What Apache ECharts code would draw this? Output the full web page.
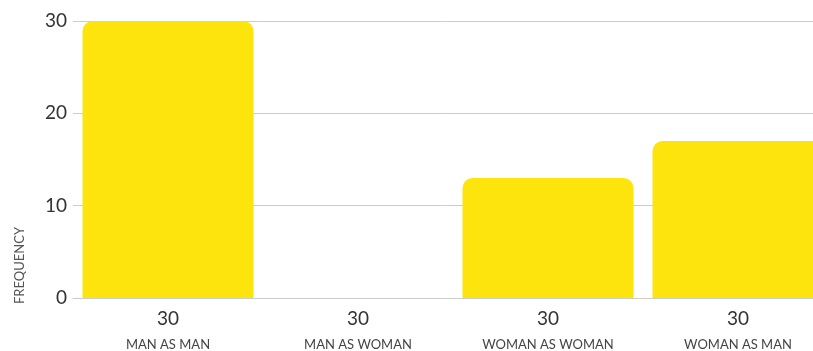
<!DOCTYPE html>
<html>
<head>
<meta charset="utf-8">
<style>html,body{margin:0;padding:0;background:#fff}#c{width:813px;height:351px}</style>
<script src="https://cdn.jsdelivr.net/npm/echarts@6/dist/echarts.min.js"></script>
</head>
<body>
<div id="c"></div>
<script>
const categories = ['MAN AS MAN', 'MAN AS WOMAN', 'WOMAN AS WOMAN', 'WOMAN AS MAN'];
const totals = [30, 30, 30, 30];
const frequency = [30, 0, 13, 17];
const yTicks = [0, 10, 20, 30];

const chart = echarts.init(document.getElementById('c'), null, {renderer: 'canvas'});
chart.setOption({
  animation: false,
  grid: {left: 73, width: 760, top: 21, height: 277, containLabel: false, outerBoundsMode: 'none'},
  xAxis: {
    type: 'category',
    data: categories,
    axisLine: {show: true, lineStyle: {color: '#cccccc', width: 1}},
    axisTick: {show: false},
    axisLabel: {
      interval: 0,
      margin: 8,
      formatter: function (v, i) { return '{n|' + totals[i] + '}\n{c|' + v + '}'; },
      rich: {
        n: {fontFamily: 'Lato', fontSize: 19, color: '#333', lineHeight: 26},
        c: {fontFamily: 'Lato', fontSize: 13, color: '#444', lineHeight: 26}
      }
    }
  },
  yAxis: {
    type: 'value',
    min: yTicks[0],
    max: yTicks[yTicks.length - 1],
    interval: 10,
    axisLine: {show: false},
    axisTick: {show: false},
    splitLine: {lineStyle: {color: '#cccccc', width: 1}},
    axisLabel: {fontFamily: 'Lato', fontSize: 19, color: '#333', margin: 6}
  },
  graphic: [{
    type: 'text',
    left: 13,
    top: 227,
    rotation: Math.PI / 2,
    style: {text: 'FREQUENCY', fontFamily: 'Lato', fontSize: 13, fill: '#555'}
  }],
  series: [{
    type: 'bar',
    data: frequency,
    barCategoryGap: '10%',
    itemStyle: {color: '#FCE40C', borderRadius: [10, 10, 0, 0]}
  }]
});
</script>
</body>
</html>
